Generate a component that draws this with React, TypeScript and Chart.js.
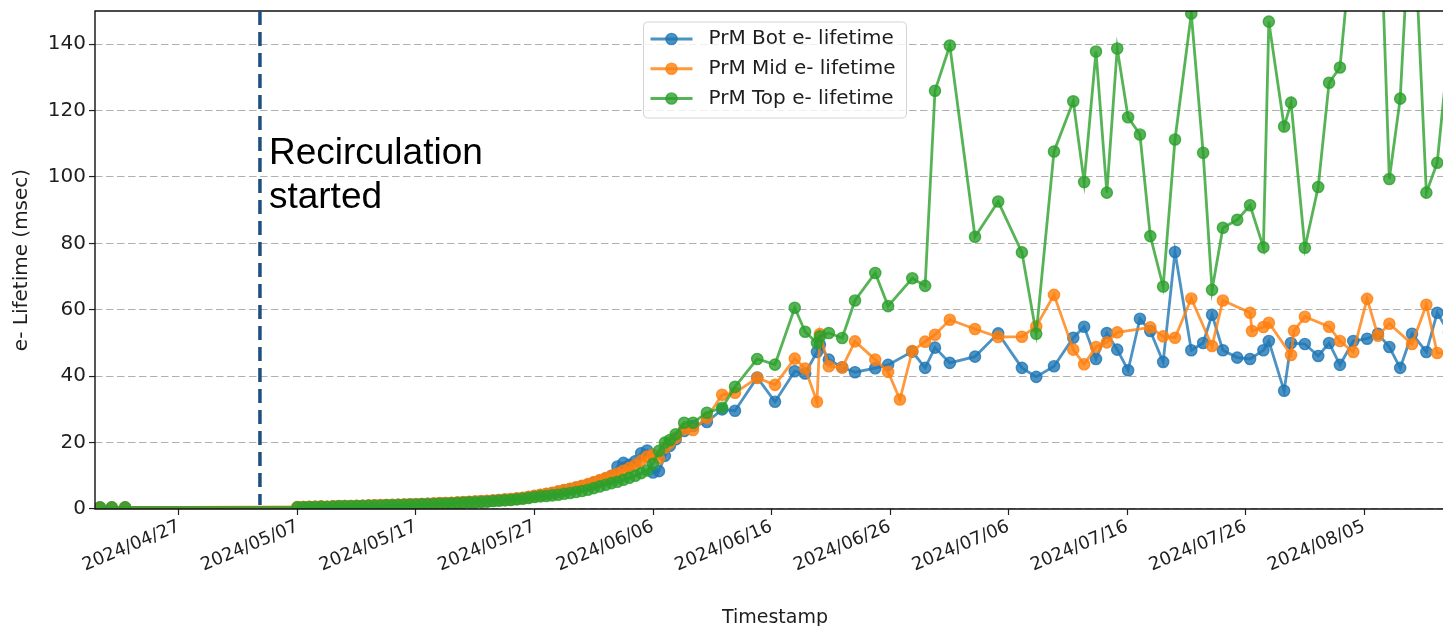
import { useEffect, useRef } from 'react';
import { Chart, registerables } from 'chart.js';

Chart.register(...registerables);

// Measurement times (UTC) shared by the three purity monitors.
const TIMESTAMPS = [
  '2024-04-20 08:00', '2024-04-21 08:00', '2024-04-22 11:00',
  '2024-05-07 00:00', '2024-05-07 12:00', '2024-05-08 00:00', '2024-05-08 12:00',
  '2024-05-09 00:00', '2024-05-09 12:00', '2024-05-10 00:00', '2024-05-10 12:00',
  '2024-05-11 00:00', '2024-05-11 12:00', '2024-05-12 00:00', '2024-05-12 12:00',
  '2024-05-13 00:00', '2024-05-13 12:00', '2024-05-14 00:00', '2024-05-14 12:00',
  '2024-05-15 00:00', '2024-05-15 12:00', '2024-05-16 00:00', '2024-05-16 12:00',
  '2024-05-17 00:00', '2024-05-17 12:00', '2024-05-18 00:00', '2024-05-18 12:00',
  '2024-05-19 00:00', '2024-05-19 12:00', '2024-05-20 00:00', '2024-05-20 12:00',
  '2024-05-21 00:00', '2024-05-21 12:00', '2024-05-22 00:00', '2024-05-22 12:00',
  '2024-05-23 00:00', '2024-05-23 12:00', '2024-05-24 00:00', '2024-05-24 12:00',
  '2024-05-25 00:00', '2024-05-25 12:00', '2024-05-26 00:00', '2024-05-26 12:00',
  '2024-05-27 00:00', '2024-05-27 12:00', '2024-05-28 00:00', '2024-05-28 12:00',
  '2024-05-29 00:00', '2024-05-29 12:00', '2024-05-30 00:00', '2024-05-30 12:00',
  '2024-05-31 00:00', '2024-05-31 12:00', '2024-06-01 00:00', '2024-06-01 12:00',
  '2024-06-02 00:00', '2024-06-02 12:00', '2024-06-03 00:00', '2024-06-03 12:00',
  '2024-06-04 00:00', '2024-06-04 12:00', '2024-06-05 00:00', '2024-06-05 12:00',
  '2024-06-06 00:00', '2024-06-06 12:00',
  '2024-06-07 00:00', '2024-06-07 10:00', '2024-06-07 22:00', '2024-06-08 15:00',
  '2024-06-09 09:00', '2024-06-10 13:00', '2024-06-11 20:00', '2024-06-12 22:00',
  '2024-06-14 19:00', '2024-06-16 07:00', '2024-06-17 23:00', '2024-06-18 20:00',
  '2024-06-19 20:00', '2024-06-20 02:00', '2024-06-20 20:00', '2024-06-21 23:00',
  '2024-06-23 01:00', '2024-06-24 18:00', '2024-06-25 20:00', '2024-06-26 20:00',
  '2024-06-27 21:00', '2024-06-28 23:00', '2024-06-29 19:00', '2024-07-01 01:00',
  '2024-07-03 04:00', '2024-07-05 03:00', '2024-07-07 03:00', '2024-07-08 08:00',
  '2024-07-09 20:00', '2024-07-11 11:00', '2024-07-12 09:00', '2024-07-13 09:00',
  '2024-07-14 07:00', '2024-07-15 04:00', '2024-07-16 02:00', '2024-07-17 02:00',
  '2024-07-17 23:00', '2024-07-19 01:00', '2024-07-20 01:00', '2024-07-21 10:00',
  '2024-07-22 10:00', '2024-07-23 04:00', '2024-07-24 02:00', '2024-07-25 07:00',
  '2024-07-26 09:00', '2024-07-26 13:00', '2024-07-27 12:00', '2024-07-27 23:00',
  '2024-07-29 06:00', '2024-07-29 20:00', '2024-07-30 02:00', '2024-07-31 00:00',
  '2024-08-01 03:00', '2024-08-02 01:00', '2024-08-02 23:00', '2024-08-04 02:00',
  '2024-08-05 06:00', '2024-08-06 04:00', '2024-08-07 03:00', '2024-08-08 01:00',
  '2024-08-09 01:00', '2024-08-10 06:00', '2024-08-11 04:00', '2024-08-12 04:00',
];

// Electron lifetime in msec; null where a monitor has no reading at that time.
const BOT_LIFETIME = [
  0.4, 0.4, 0.4,
  0.5, 0.6, 0.6, 0.7, 0.7, 0.7, 0.8, 0.8, 0.9, 0.9, 0.9, 1.0, 1.0, 1.1, 1.1, 1.2, 1.2,
  1.3, 1.3, 1.4, 1.4, 1.5, 1.6, 1.6, 1.7, 1.8, 1.8, 1.9, 2.0, 2.1, 2.2, 2.3, 2.4, 2.5, 2.7, 2.8, 2.9,
  3.1, 3.3, 3.6, 3.9, 4.2, 4.5, 4.8,
  5.2, 5.6, 6.0, 6.4, 6.8, 7.3,
  7.9, 8.5, 9.2, 10.0,
  12.8, 13.9, 13.3,
  14.4, 16.8, 17.6,
  11.0, 11.4,
  16.0, 19.0, 21.0, 23.5, 25.0, 26.2, 30.0, 29.6, 39.6, 32.3,
  41.5, 40.8, 47.3, 49.5, 45.0, 42.7, 41.2, 42.4, 43.4, null,
  47.4, 42.5, 48.6, 44.0, 45.9, 52.9, 42.5, 39.8, 43.0, 51.6,
  54.9, 45.2, 53.0, 48.0, 41.8, 57.3, 53.6, 44.3, 77.4, 47.8,
  50.0, 58.5, 47.8, 45.6, 45.2, null, 47.8, 50.6, 35.6, 50.0,
  null, 49.7, 46.1, 50.0, 43.4, 50.6, 51.3, 52.8, 48.8, 42.5,
  52.8, 47.3, 59.1, 53.0,
];

const MID_LIFETIME = [
  0.4, 0.4, 0.4,
  0.6, 0.6, 0.7, 0.7, 0.8, 0.7, 0.8, 0.9, 0.9, 0.9, 1.0, 1.0, 1.1, 1.1, 1.2, 1.2, 1.3,
  1.3, 1.4, 1.4, 1.5, 1.5, 1.6, 1.7, 1.8, 1.8, 1.9, 2.0, 2.1, 2.2, 2.3, 2.4, 2.5, 2.6, 2.7, 2.9, 3.0,
  3.2, 3.4, 3.7, 4.0, 4.3, 4.6, 4.9,
  5.3, 5.7, 6.1, 6.5, 7.0, 7.5,
  8.1, 8.7, 9.3, 10.0,
  10.7, 11.5, 12.3,
  13.2, 14.5, 15.8,
  16.3, 15.2,
  18.5, 20.0, 21.5, 24.0, 23.8, 27.5, 34.4, 35.0, 39.5, 37.4,
  45.3, 42.3, 32.3, 52.7, 43.0, 42.6, 50.5, 45.0, 41.3, 33.0,
  47.6, 50.4, 52.5, 57.0, 54.2, 51.8, 51.9, 55.0, 64.5, 48.0,
  43.6, 48.8, 50.2, 53.2, null, null, 54.7, 52.0, 51.6, 63.4,
  null, 49.1, 62.8, null, 59.1, 53.6, 54.8, 56.1, null, 46.4,
  53.7, 57.9, null, 54.9, 50.6, 47.3, 63.3, 52.2, 55.8, null,
  49.7, 61.5, 47.0, 47.0,
];

const TOP_LIFETIME = [
  0.5, 0.5, 0.5,
  0.5, 0.5, 0.6, 0.6, 0.7, 0.6, 0.7, 0.8, 0.8, 0.8, 0.9, 0.9, 1.0, 0.9, 1.0, 1.1, 1.1,
  1.2, 1.2, 1.3, 1.3, 1.4, 1.4, 1.5, 1.6, 1.6, 1.7, 1.8, 1.9, 2.0, 2.0, 2.1, 2.2, 2.4, 2.5, 2.6, 2.7,
  2.9, 3.1, 3.3, 3.6, 3.8, 3.9, 4.1,
  4.3, 4.6, 4.8, 5.1, 5.4, 5.8,
  6.3, 6.8, 7.3, 7.8,
  8.2, 8.8, 9.4,
  10.0, 10.8, 11.6,
  13.6, 17.5,
  20.0, 20.8, 22.5, 26.0, 26.0, 29.0, 30.5, 36.8, 45.2, 43.5,
  60.6, 53.4, 50.0, 52.0, 53.0, 51.5, 62.8, 71.1, 61.1, null,
  69.5, 67.2, 126.0, 139.6, 82.0, 92.6, 77.3, 52.8, 107.7, 122.8,
  98.5, 137.8, 95.3, 138.7, 118.0, 112.8, 82.2, 67.0, 111.3, 149.2,
  107.3, 66.0, 84.7, 87.1, 91.5, null, 78.8, 146.8, 115.2, 122.4,
  null, 78.7, 97.0, 128.4, 133.0, 175.0, null, 200.0, 99.4, 123.6,
  190.0, 95.3, 104.3, 140.0,
];

const SERIES_LABELS = ['PrM Bot e- lifetime', 'PrM Mid e- lifetime', 'PrM Top e- lifetime'];
const SERIES_COLORS = ['rgba(31,119,180,0.8)', 'rgba(255,127,14,0.8)', 'rgba(44,160,44,0.8)'];

const X_TICK_LABELS = [
  '2024/04/27', '2024/05/07', '2024/05/17', '2024/05/27', '2024/06/06', '2024/06/16',
  '2024/06/26', '2024/07/06', '2024/07/16', '2024/07/26', '2024/08/05',
];
const Y_TICKS = [0, 20, 40, 60, 80, 100, 120, 140];

const AXIS_START = '2024-04-19 22:00';
const AXIS_END = '2024-08-12 16:00';
const Y_MIN = 0;
const Y_MAX = 150;

const RECIRCULATION_START = '2024-05-03 20:00';
const ANNOTATION_LINES = ['Recirculation', 'started'];

const FONT = "'DejaVu Sans', sans-serif";
const TEXT_COLOR = '#1e1e1e';

const EPOCH = Date.UTC(2024, 3, 27);

// Days since 2024-04-27 for "YYYY-MM-DD HH:mm" or "YYYY/MM/DD".
function toDays(s: string): number {
  const m = s.match(/(\d+)[-/](\d+)[-/](\d+)(?:\s+(\d+):(\d+))?/)!;
  const t = Date.UTC(+m[1], +m[2] - 1, +m[3], m[4] ? +m[4] : 0, m[5] ? +m[5] : 0);
  return (t - EPOCH) / 864e5;
}

const decorations = {
  id: 'decorations',
  afterDatasetsDraw(chart: any) {
    const { ctx, chartArea, scales } = chart;
    const { left, top, right, bottom } = chartArea;
    ctx.save();
    // axes frame (left, top, bottom)
    ctx.strokeStyle = '#111';
    ctx.lineWidth = 1.4;
    ctx.beginPath();
    ctx.moveTo(right, top);
    ctx.lineTo(left, top);
    ctx.lineTo(left, bottom);
    ctx.lineTo(right, bottom);
    ctx.stroke();

    // recirculation marker
    const rx = scales.x.getPixelForValue(toDays(RECIRCULATION_START));
    ctx.strokeStyle = '#1f4e80';
    ctx.lineWidth = 3.5;
    ctx.setLineDash([14, 7]);
    ctx.beginPath();
    ctx.moveTo(rx, top);
    ctx.lineTo(rx, bottom - 4);
    ctx.stroke();
    ctx.setLineDash([]);

    ctx.fillStyle = '#000';
    ctx.font = '37px "Liberation Sans", Arial, sans-serif';
    ctx.textAlign = 'left';
    ctx.textBaseline = 'alphabetic';
    ANNOTATION_LINES.forEach((line, i) => {
      ctx.fillText(line, rx + 9, top + 153 + i * 44);
    });
    ctx.restore();
  },
  afterDraw(chart: any) {
    const { ctx, chartArea } = chart;
    const boxW = 263;
    const boxH = 96;
    const bx = (chartArea.left + chartArea.right) / 2 - boxW / 2;
    const by = chartArea.top + 11;
    ctx.save();
    ctx.beginPath();
    ctx.roundRect(bx, by, boxW, boxH, 4);
    ctx.fillStyle = 'rgba(255,255,255,0.8)';
    ctx.fill();
    ctx.strokeStyle = '#d4d4d4';
    ctx.lineWidth = 1;
    ctx.stroke();

    chart.data.datasets.forEach((ds: any, i: number) => {
      const y = by + 17 + i * 29.75;
      ctx.strokeStyle = ds.borderColor;
      ctx.lineWidth = 2.8;
      ctx.beginPath();
      ctx.moveTo(bx + 7, y);
      ctx.lineTo(bx + 49, y);
      ctx.stroke();
      ctx.beginPath();
      ctx.arc(bx + 28, y, 5.6, 0, Math.PI * 2);
      ctx.fillStyle = ds.pointBackgroundColor;
      ctx.fill();
      ctx.lineWidth = 1.4;
      ctx.strokeStyle = ds.pointBorderColor;
      ctx.stroke();

      ctx.fillStyle = TEXT_COLOR;
      ctx.font = `20px ${FONT}`;
      ctx.textAlign = 'left';
      ctx.textBaseline = 'middle';
      ctx.fillText(ds.label, bx + 65, y);
    });
    ctx.restore();
  },
};

export default function App() {
  const canvasRef = useRef<HTMLCanvasElement>(null);

  useEffect(() => {
    const series = [BOT_LIFETIME, MID_LIFETIME, TOP_LIFETIME];
    const chart = new Chart(canvasRef.current!, {
      type: 'line',
      data: {
        datasets: series.map((values, i) => ({
          label: SERIES_LABELS[i],
          data: TIMESTAMPS.map((t, j) => ({ x: toDays(t), y: values[j] })),
          borderColor: SERIES_COLORS[i],
          backgroundColor: SERIES_COLORS[i],
          pointBackgroundColor: SERIES_COLORS[i],
          pointBorderColor: SERIES_COLORS[i],
          borderWidth: 2.8,
          pointRadius: 5.6,
          pointBorderWidth: 1.4,
          pointHoverRadius: 5.6,
          tension: 0,
          spanGaps: true,
          order: series.length - 1 - i,
        })),
      },
      options: {
        animation: false,
        responsive: false,
        maintainAspectRatio: false,
        events: [],
        layout: { autoPadding: false, padding: { top: 11, left: 0, right: 0, bottom: 0 } },
        plugins: { legend: { display: false }, tooltip: { enabled: false } },
        scales: {
          x: {
            type: 'linear',
            min: toDays(AXIS_START),
            max: toDays(AXIS_END),
            afterBuildTicks: (scale: any) => {
              scale.ticks = X_TICK_LABELS.map((l) => ({ value: toDays(l) }));
            },
            afterFit: (scale: any) => {
              scale.height = 131;
              scale.paddingLeft = 0;
              scale.paddingRight = 0;
            },
            grid: {
              drawOnChartArea: false,
              drawTicks: true,
              tickLength: 6,
              tickWidth: 1.2,
              tickColor: '#222',
              tickBorderDash: [],
            },
            border: { display: false },
            ticks: {
              autoSkip: false,
              maxRotation: 23,
              minRotation: 23,
              padding: 1,
              color: TEXT_COLOR,
              font: { family: FONT, size: 18 },
              callback: (_v: any, i: number) => X_TICK_LABELS[i],
            },
            title: {
              display: true,
              text: 'Timestamp',
              color: TEXT_COLOR,
              font: { family: FONT, size: 19 },
              padding: { top: 0, bottom: 11 },
            },
          },
          y: {
            type: 'linear',
            min: Y_MIN,
            max: Y_MAX,
            afterBuildTicks: (scale: any) => {
              scale.ticks = Y_TICKS.map((v) => ({ value: v }));
            },
            afterFit: (scale: any) => {
              scale.width = 95;
              scale.paddingTop = 0;
              scale.paddingBottom = 0;
            },
            grid: {
              color: '#b0b0b0',
              lineWidth: 1.1,
              tickLength: 6,
              tickWidth: 1.2,
              tickColor: '#222',
              tickBorderDash: [],
            },
            border: { display: false, dash: [7.5, 3.5] },
            ticks: {
              padding: 3,
              color: TEXT_COLOR,
              font: { family: FONT, size: 20 },
            },
            title: {
              display: true,
              text: 'e- Lifetime (msec)',
              color: TEXT_COLOR,
              font: { family: FONT, size: 20 },
              padding: { top: 10, bottom: 0 },
            },
          },
        },
      },
      plugins: [decorations],
    } as any);
    return () => chart.destroy();
  }, []);

  return (
    <div
      style={{
        position: 'fixed',
        left: 0,
        top: 0,
        width: 1443,
        height: 626,
        overflow: 'hidden',
        background: '#fff',
      }}
    >
      <canvas
        ref={canvasRef}
        width={1455}
        height={640}
        style={{ display: 'block', width: 1455, height: 640 }}
      />
    </div>
  );
}
